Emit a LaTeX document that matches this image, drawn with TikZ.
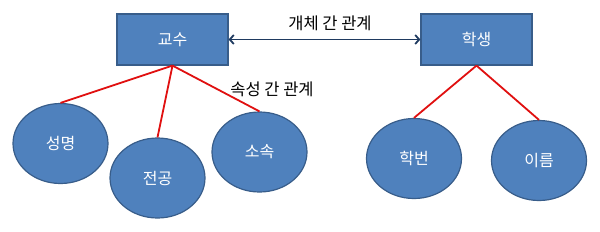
\documentclass[tikz,border=0pt]{standalone}
\usepackage{fontspec}
\setmainfont{Noto Sans CJK KR}
\usetikzlibrary{shapes.geometric,arrows.meta}
\definecolor{boxblue}{HTML}{4F81BD}
\definecolor{boxedge}{HTML}{385D8A}
\definecolor{arrowblue}{HTML}{1F3A60}
\definecolor{linkred}{HTML}{E01010}
\tikzset{
  entity/.style={draw=boxedge, line width=1.2pt, fill=boxblue, text=white, minimum width=111pt, minimum height=51pt, inner sep=0pt, font=\fontsize{16}{18}\selectfont},
  attr/.style={ellipse, draw=boxedge, line width=1.2pt, fill=boxblue, text=white, minimum width=95pt, minimum height=80pt, inner sep=0pt, font=\fontsize{16}{18}\selectfont},
  link/.style={draw=linkred, line width=1.8pt},
  rel/.style={draw=arrowblue, line width=1.8pt, {Straight Barb[length=4pt,width=9pt]}-{Straight Barb[length=4pt,width=9pt]}},
  lbl/.style={font=\fontsize{16.5}{18}\selectfont, text=black, inner sep=0pt}
}
\begin{document}
\begin{tikzpicture}[x=1pt,y=-1pt]
\useasboundingbox (0,0) rectangle (600,231);
\node[entity] (prof) at (172.5,39.5) {교수};
\node[entity] (stud) at (476.5,39.5) {학생};
\node[attr] (name1) at (60.5,143.5) {성명};
\node[attr] (major) at (157.5,178) {전공};
\node[attr] (dept) at (259.5,152) {소속};
\node[attr] (sid) at (414,158.5) {학번};
\node[attr] (name2) at (539,160.5) {이름};
\node[lbl] (l1) at (330,23) {개체\ 간\ 관계};
\node[lbl] (l2) at (272,89) {속성\ 간\ 관계};
\draw[rel] (prof.east) -- (stud.west);
\draw[link] (prof.south) -- (name1.north);
\draw[link] (prof.south) -- (major.north);
\draw[link] (prof.south) -- (dept.north);
\draw[link] (stud.south) -- (sid.north);
\draw[link] (stud.south) -- (name2.north);
\end{tikzpicture}
\end{document}
